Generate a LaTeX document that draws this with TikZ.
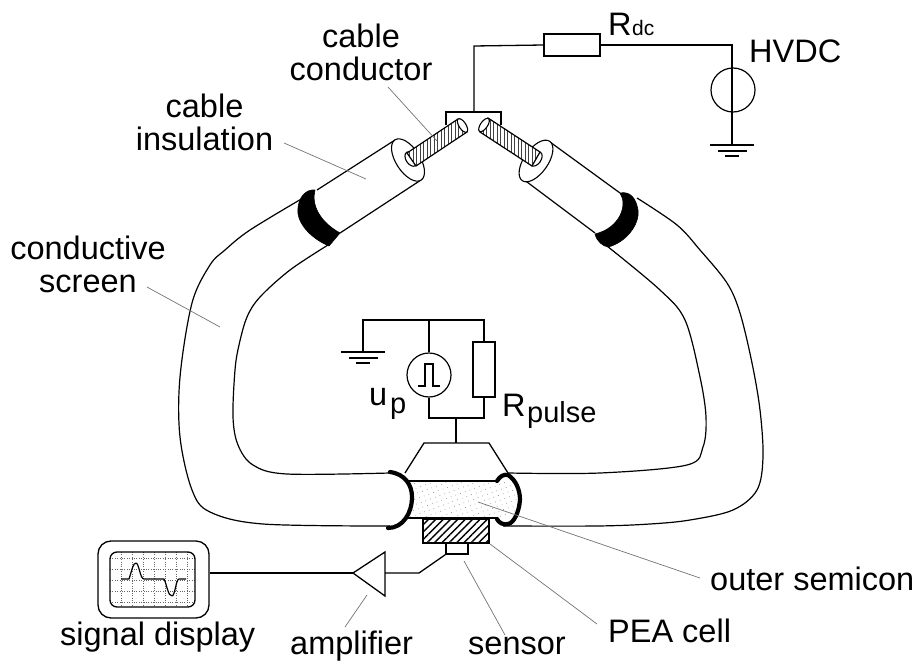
\documentclass[tikz,border=0pt]{standalone}
\usepackage{fontspec}
\setmainfont{Liberation Sans}
\usetikzlibrary{patterns.meta}
\tikzset{
  wire/.style={line width=1.3pt,line join=miter},
  res/.style={draw,line width=1.3pt,rectangle,inner sep=0pt,fill=white},
  src/.style={draw,line width=1.2pt,circle,inner sep=0pt,minimum size=44pt},
  cablecurve/.style={line width=1.2pt,smooth,tension=.55},
  leader/.style={line width=.7pt,black!55},
  lbl/.style={font=\fontsize{32.5}{32.5}\selectfont,inner sep=0pt,align=center},
  lbls/.style={font=\fontsize{21}{24}\selectfont,inner sep=0pt},
  lblm/.style={font=\fontsize{29}{32}\selectfont,inner sep=0pt},
  ring/.style={line width=4.2pt,line cap=round,line join=round},
  band/.style={fill=black,draw=black,line width=.6pt,line join=round},
  discshape/.style={draw,line width=1.1pt,fill=white},
  condend/.style={draw,line width=1.1pt,fill=white},
  conductor/.style={draw,line width=1.2pt,pattern={Lines[angle=90,distance=3.5pt,line width=.45pt]},pattern color=black!75},
}
\newcommand{\gndmark}[2]{%
  \draw[wire] (#1-22,#2) -- (#1+22,#2);
  \draw[wire] (#1-14,#2+6) -- (#1+15,#2+6);
  \draw[wire] (#1-7,#2+11) -- (#1+7,#2+11);}
\begin{document}
\begin{tikzpicture}[x=1pt,y=-1pt]
\useasboundingbox (0,0) rectangle (923,661);

% ---- cable outlines
\draw[cablecurve] plot coordinates {(303,198) (250,230) (225,250) (210,265) (192,303) (180,377) (180,437) (192,490) (210,512) (263,524) (390,526)};
\draw[cablecurve] plot coordinates {(328,245) (290,270) (260,297) (247,317) (239,345) (235,370) (233,417) (238,445) (253,465) (287,474) (390,473)};
\draw[cablecurve] plot coordinates {(637,198) (677,225) (700,250) (727,283) (740,313) (752,363) (760,410) (763,457) (757,490) (733,510) (690,520) (650,524) (597,526) (503,526)};
\draw[cablecurve] plot coordinates {(607,246) (660,290) (685,320) (700,377) (706,417) (703,447) (687,465) (600,473) (508,473)};

% ---- insulation
\draw[line width=1.2pt] (317,190) -- (395,140);
\draw[line width=1.2pt] (340,233) -- (421,180);
\draw[line width=1.2pt] (620,193) -- (550,142);
\draw[line width=1.2pt] (595,233) -- (523,179);

% ---- black bands
\draw[band] (315,190) .. controls (311,205) and (320,222) .. (340,233)
  -- (329,246) .. controls (310,238) and (296,222) .. (298,208)
  .. controls (299,197) and (306,189) .. (315,190) -- cycle;
\draw[band] (620,193) .. controls (628,205) and (620,228) .. (595,234)
  .. controls (597,242) and (603,246) .. (608,247)
  .. controls (625,243) and (640,225) .. (638,210)
  .. controls (636,198) and (630,191) .. (620,193) -- cycle;

% ---- discs at the ends of the insulation
\draw[discshape,shift={(408,160)},rotate=33] (0,0) ellipse [x radius=12pt,y radius=24pt];
\draw[discshape,shift={(536,161)},rotate=-35] (0,0) ellipse [x radius=12pt,y radius=24pt];

% ---- connector on top
\coordinate (clipL) at (446,125);
\coordinate (clipM) at (474,112);
\coordinate (clipR) at (501,125);
\draw[wire] (clipL) -- (446,112) -- (501,112) -- (clipR);

% ---- conductors
\draw[condend,shift={(411,159)},rotate=33] (0,0) ellipse [x radius=5pt,y radius=8pt];
\draw[fill=white,draw=none] (407,153) -- (458,119) -- (467,132) -- (416,166) -- cycle;
\draw[conductor] (407,153) -- (458,119) -- (467,132) -- (416,166) -- cycle;
\draw[condend,shift={(462.5,125.5)},rotate=33] (0,0) ellipse [x radius=3.5pt,y radius=7.8pt];
\draw[condend,shift={(536,159)},rotate=-35] (0,0) ellipse [x radius=5pt,y radius=8pt];
\draw[fill=white,draw=none] (488,118) -- (540,152) -- (532,166) -- (480,132) -- cycle;
\draw[conductor] (488,118) -- (540,152) -- (532,166) -- (480,132) -- cycle;
\draw[condend,shift={(484,125)},rotate=-35] (0,0) ellipse [x radius=3.5pt,y radius=7.8pt];

% ---- Rdc / HVDC circuit
\node[res,minimum width=56pt,minimum height=22pt] (rdc) at (572,45) {};
\node[src] (hvdc) at (733,90) {};
\coordinate (gndA) at (732,145);
\draw[wire] (clipM) -- (474,46) -- (rdc.west);
\draw[wire] (rdc.east) -- (732,45) -- (gndA);
\gndmark{732}{145}

% ---- semicon section
\fill[pattern={Dots[distance=5pt,radius=.4pt,angle=20]},pattern color=black!60]
  (405,481) -- (497,481) .. controls (505,476) and (520,490) .. (520,500)
  .. controls (519,512) and (505,522) .. (497,518) -- (405,518)
  .. controls (411,505) and (411,492) .. (405,481) -- cycle;
\draw[line width=1.5pt] (405,481) -- (497,481);
\draw[line width=1.5pt] (405,518) -- (497,518);
\draw[ring] (390,472) .. controls (405,474) and (412,485) .. (412,497)
  .. controls (412,513) and (403,528) .. (388,528);
\draw[ring] (497,481) .. controls (500,476) and (504,474) .. (508,475)
  .. controls (516,480) and (520,490) .. (520,500)
  .. controls (519,512) and (514,523) .. (508,524)
  .. controls (503,525) and (499,523) .. (497,519);

% ---- clamp and pulse circuit
\coordinate (clampTop) at (456,443);
\draw[wire] (405,473) -- (424,443) -- (489,443) -- (508,473);
\node[src] (pulse) at (429,375) {};
\node[res,minimum width=22pt,minimum height=55pt] (rpulse) at (484,369.5) {};
\draw[wire] (363,352) -- (363,320) -- (484,320) -- (rpulse.north);
\draw[wire] (429,320) -- (pulse.north);
\draw[wire] (pulse.south) -- (429,418) -- (484,418) -- (rpulse.south);
\draw[wire] (456,418) -- (clampTop);
\gndmark{363}{352}
\draw[line width=1.2pt] (418,386) -- (425,386) -- (425,364) -- (433,364) -- (433,386) -- (440,386);

% ---- PEA cell and sensor
\node[draw,line width=1.3pt,minimum width=66pt,minimum height=24pt,inner sep=0pt,
  pattern={Lines[angle=45,distance=5.2pt,line width=1.4pt]}] (pea) at (456,531) {};
\node[res,minimum width=22pt,minimum height=11pt] (sensor) at (457,548.5) {};

% ---- amplifier and display
\coordinate (ampTip) at (353,573);
\coordinate (ampIn) at (385,573);
\draw[wire,line join=miter] (ampTip) -- (385,552) -- (385,596) -- cycle;
\draw[wire] (sensor.south west) -- (419,573) -- (ampIn);
\node[draw,line width=1.3pt,rounded corners=13pt,minimum width=111pt,minimum height=77pt,inner sep=0pt] (disp) at (153.5,579.5) {};
\draw[wire] (disp.east) ++(0,-6.5) -- (ampTip);
\begin{scope}
  \clip[rounded corners=7pt] (110,552) rectangle (195,607);
  \foreach \gx in {121.5,132,143,154,165,176,187}
    \draw[black!60,line width=.5pt,dash pattern=on .8pt off 1.6pt] (\gx,552) -- (\gx,607);
  \foreach \gy in {558,569,580,591,602}
    \draw[black!60,line width=.5pt,dash pattern=on .8pt off 1.6pt] (110,\gy) -- (195,\gy);
\end{scope}
\draw[line width=1.3pt,rounded corners=7pt] (110,552) rectangle (195,607);
\draw[line width=1.2pt,line join=round] (121,579) -- (129,579) .. controls (132,570) and (133,563) .. (136,563)
  .. controls (139,563) and (140,579) .. (144,579) -- (164,579)
  .. controls (167,585) and (168,596) .. (172,596)
  .. controls (175,596) and (176,579) .. (179,579) -- (186,579);

% ---- labels (a multi-line node's base is that of its last line)
\node[lbl,anchor=base] (lcond) at (361,80) {cable\\conductor};
\node[lbl,anchor=base] (lins) at (204.5,150) {cable\\insulation};
\node[lbl,anchor=base] (lscr) at (88,292) {conductive\\screen};
\node[lbl,anchor=base west] (lR) at (608,36) {R};
\node[lbls,anchor=base west] (ldc) at (632,36) {dc};
\node[lbl,anchor=base west] (lhv) at (749,63) {HVDC};
\node[lbl,anchor=base west] (lu) at (369,405) {u};
\node[lblm,anchor=base west] (lp) at (390,413) {p};
\node[lbl,anchor=base west] (lRp) at (502,416) {R};
\node[lblm,anchor=base west] (lpul) at (527,422) {pulse};
\node[lbl,anchor=base west] (lout) at (710,590) {outer semicon};
\node[lbl,anchor=base west] (lpea) at (608,642) {PEA cell};
\node[lbl,anchor=base west] (lsen) at (468,654) {sensor};
\node[lbl,anchor=base west] (lamp) at (290,654) {amplifier};
\node[lbl,anchor=base west] (lsig) at (60,645) {signal display};

% ---- leader lines
\coordinate (a1) at (388,87);  \coordinate (a2) at (437,141);
\coordinate (b1) at (284,143); \coordinate (b2) at (366,179);
\coordinate (c1) at (147,287); \coordinate (c2) at (220,327);
\coordinate (d1) at (478,502); \coordinate (d2) at (700,578);
\coordinate (e1) at (490,544); \coordinate (e2) at (597,624);
\coordinate (f1) at (464,561); \coordinate (f2) at (505,635);
\coordinate (g1) at (367,595); \coordinate (g2) at (345,627);
\foreach \p/\q in {a1/a2,b1/b2,c1/c2,d1/d2,e1/e2,f1/f2,g1/g2}
  \draw[leader] (\p) -- (\q);
\end{tikzpicture}
\end{document}
